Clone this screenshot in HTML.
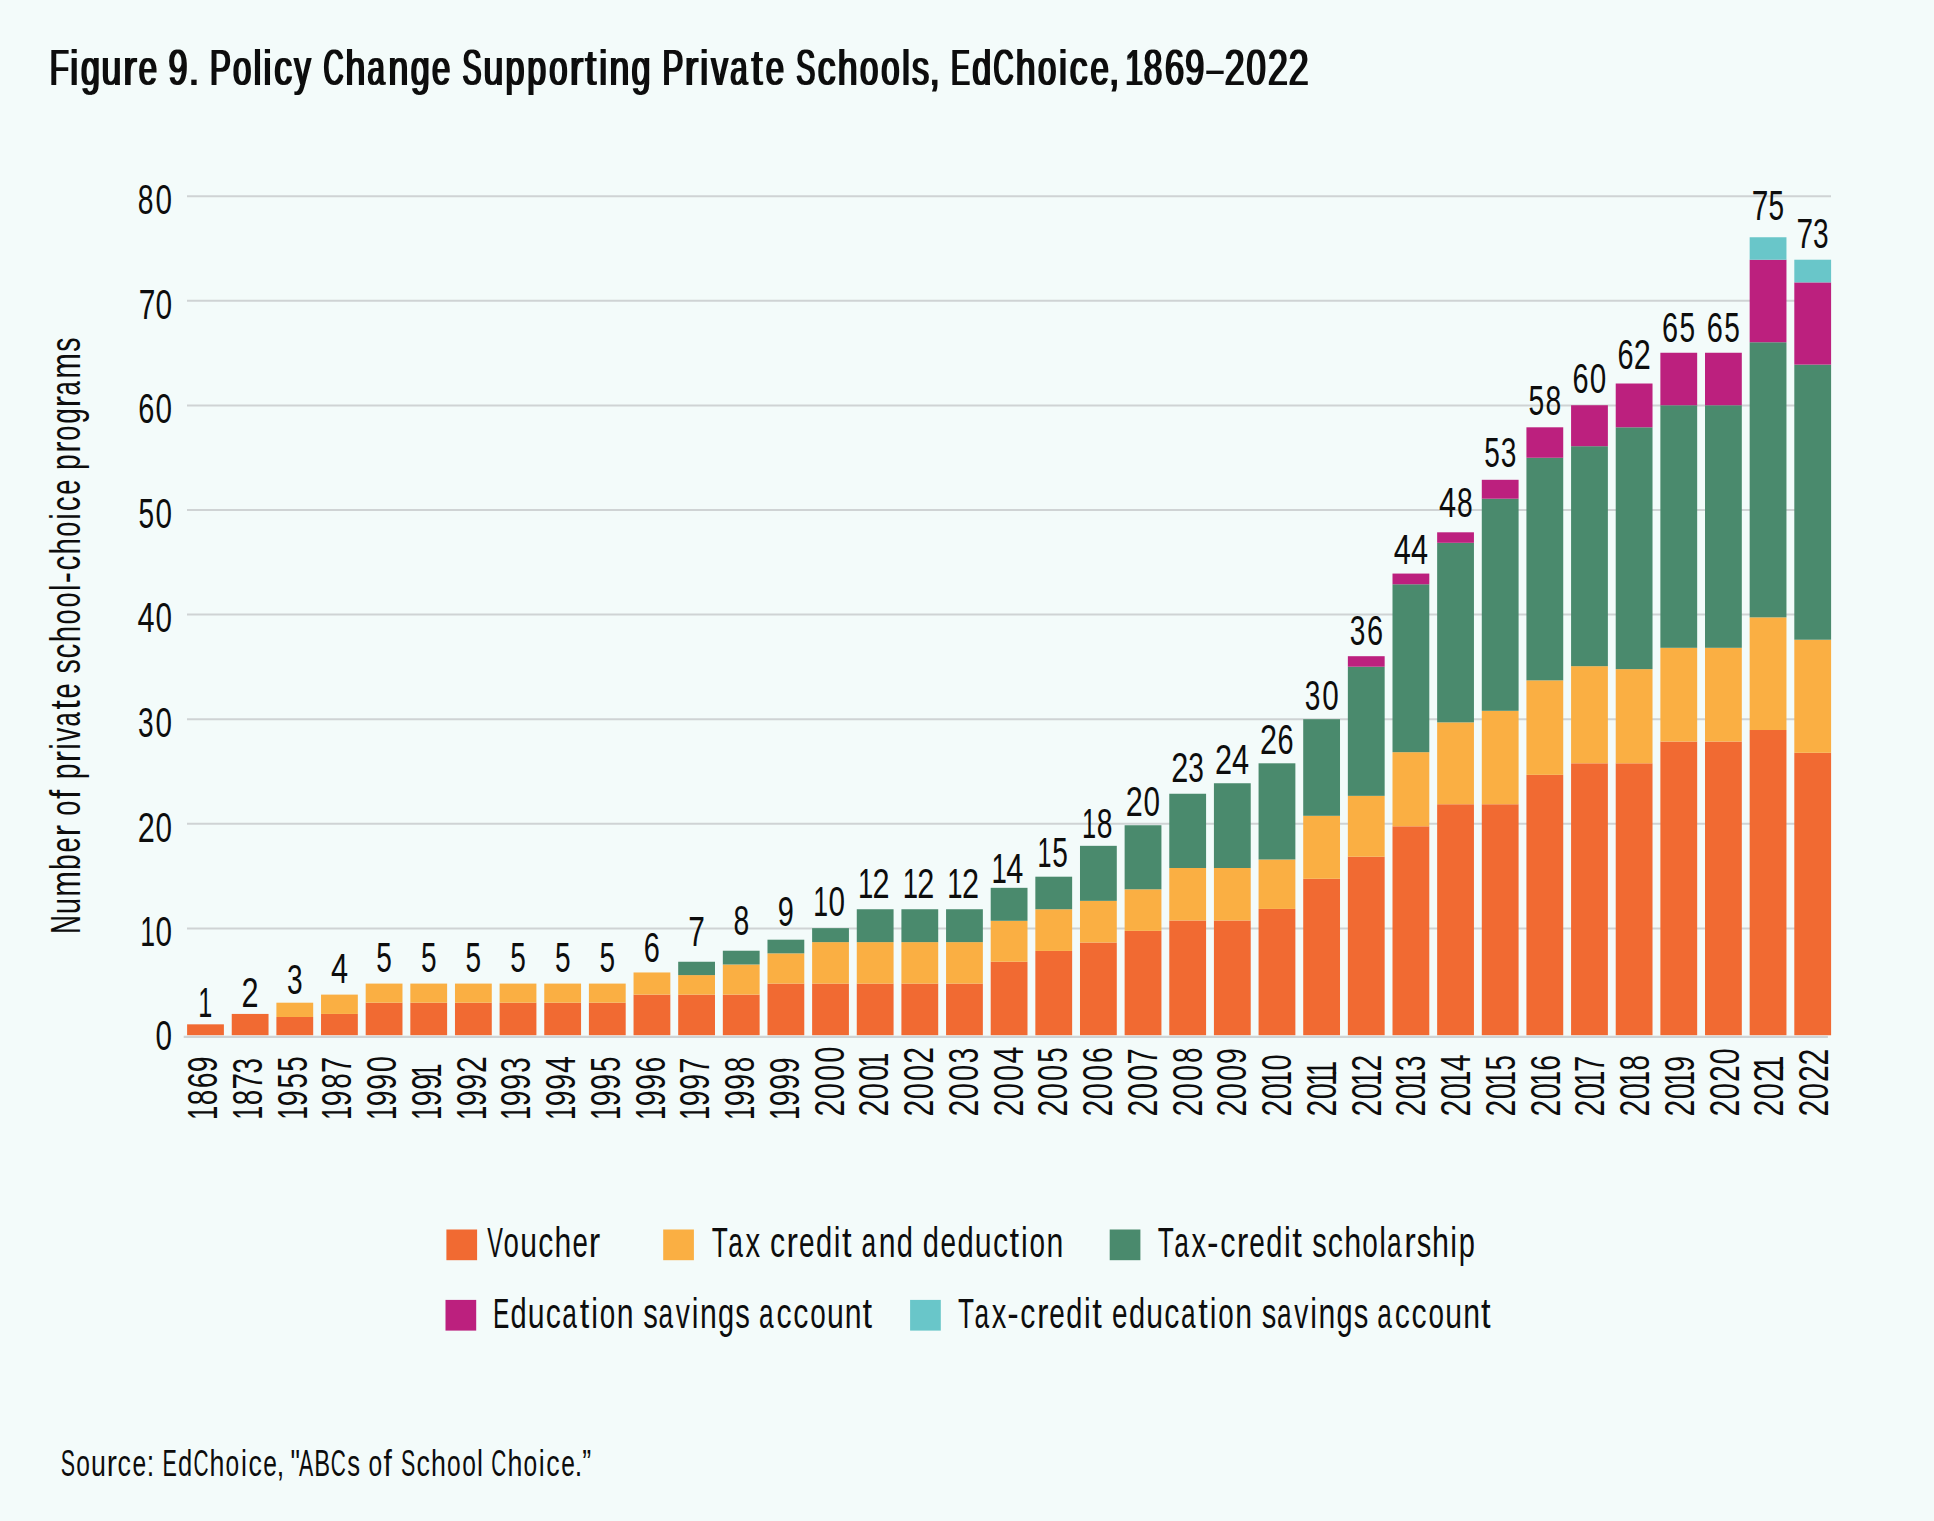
<!DOCTYPE html>
<html lang="en"><head><meta charset="utf-8"><title>Figure 9. Policy Change Supporting Private Schools, EdChoice, 1869–2022</title>
<style>
html,body{margin:0;padding:0;background:#f3fbfa}
body{width:1934px;height:1521px;overflow:hidden}
svg{display:block}
svg text{font-family:"Liberation Sans",sans-serif;white-space:pre}
</style></head><body>
<svg width="1934" height="1521" viewBox="0 0 1934 1521" shape-rendering="auto">
<defs><filter id="fat" x="-1%" y="-10%" width="102%" height="120%"><feMorphology operator="dilate" radius="1 0"/></filter></defs>
<rect width="1934" height="1521" fill="#f3fbfa"/>
<line x1="187" x2="1831" y1="196.2" y2="196.2" stroke="#cfd3d4" stroke-width="2"/>
<line x1="187" x2="1831" y1="300.8" y2="300.8" stroke="#cfd3d4" stroke-width="2"/>
<line x1="187" x2="1831" y1="405.4" y2="405.4" stroke="#cfd3d4" stroke-width="2"/>
<line x1="187" x2="1831" y1="510" y2="510" stroke="#cfd3d4" stroke-width="2"/>
<line x1="187" x2="1831" y1="614.6" y2="614.6" stroke="#cfd3d4" stroke-width="2"/>
<line x1="187" x2="1831" y1="719.2" y2="719.2" stroke="#cfd3d4" stroke-width="2"/>
<line x1="187" x2="1831" y1="823.8" y2="823.8" stroke="#cfd3d4" stroke-width="2"/>
<line x1="187" x2="1831" y1="928.4" y2="928.4" stroke="#cfd3d4" stroke-width="2"/>
<rect x="187.1" y="1024.33" width="36.8" height="10.92" fill="#f16a32"/>
<rect x="231.74" y="1013.93" width="36.8" height="21.32" fill="#f16a32"/>
<rect x="276.39" y="1016.98" width="36.8" height="18.27" fill="#f16a32"/>
<rect x="276.39" y="1002.7" width="36.8" height="14.28" fill="#faaf43"/>
<rect x="321.03" y="1013.93" width="36.8" height="21.32" fill="#f16a32"/>
<rect x="321.03" y="994.62" width="36.8" height="19.32" fill="#faaf43"/>
<rect x="365.68" y="1002.7" width="36.8" height="32.55" fill="#f16a32"/>
<rect x="365.68" y="983.59" width="36.8" height="19.11" fill="#faaf43"/>
<rect x="410.32" y="1002.7" width="36.8" height="32.55" fill="#f16a32"/>
<rect x="410.32" y="983.59" width="36.8" height="19.11" fill="#faaf43"/>
<rect x="454.97" y="1002.7" width="36.8" height="32.55" fill="#f16a32"/>
<rect x="454.97" y="983.59" width="36.8" height="19.11" fill="#faaf43"/>
<rect x="499.61" y="1002.7" width="36.8" height="32.55" fill="#f16a32"/>
<rect x="499.61" y="983.59" width="36.8" height="19.11" fill="#faaf43"/>
<rect x="544.26" y="1002.7" width="36.8" height="32.55" fill="#f16a32"/>
<rect x="544.26" y="983.59" width="36.8" height="19.11" fill="#faaf43"/>
<rect x="588.9" y="1002.7" width="36.8" height="32.55" fill="#f16a32"/>
<rect x="588.9" y="983.59" width="36.8" height="19.11" fill="#faaf43"/>
<rect x="633.54" y="994.62" width="36.8" height="40.63" fill="#f16a32"/>
<rect x="633.54" y="972.46" width="36.8" height="22.15" fill="#faaf43"/>
<rect x="678.19" y="994.62" width="36.8" height="40.63" fill="#f16a32"/>
<rect x="678.19" y="975.09" width="36.8" height="19.53" fill="#faaf43"/>
<rect x="678.19" y="961.75" width="36.8" height="13.34" fill="#4a8a6d"/>
<rect x="722.83" y="994.62" width="36.8" height="40.63" fill="#f16a32"/>
<rect x="722.83" y="964.48" width="36.8" height="30.13" fill="#faaf43"/>
<rect x="722.83" y="950.73" width="36.8" height="13.75" fill="#4a8a6d"/>
<rect x="767.48" y="983.59" width="36.8" height="51.66" fill="#f16a32"/>
<rect x="767.48" y="953.35" width="36.8" height="30.24" fill="#faaf43"/>
<rect x="767.48" y="939.7" width="36.8" height="13.65" fill="#4a8a6d"/>
<rect x="812.12" y="983.59" width="36.8" height="51.66" fill="#f16a32"/>
<rect x="812.12" y="942.12" width="36.8" height="41.48" fill="#faaf43"/>
<rect x="812.12" y="928.15" width="36.8" height="13.97" fill="#4a8a6d"/>
<rect x="856.77" y="983.59" width="36.8" height="51.66" fill="#f16a32"/>
<rect x="856.77" y="942.12" width="36.8" height="41.48" fill="#faaf43"/>
<rect x="856.77" y="909.25" width="36.8" height="32.87" fill="#4a8a6d"/>
<rect x="901.41" y="983.59" width="36.8" height="51.66" fill="#f16a32"/>
<rect x="901.41" y="942.12" width="36.8" height="41.48" fill="#faaf43"/>
<rect x="901.41" y="909.25" width="36.8" height="32.87" fill="#4a8a6d"/>
<rect x="946.06" y="983.59" width="36.8" height="51.66" fill="#f16a32"/>
<rect x="946.06" y="942.12" width="36.8" height="41.48" fill="#faaf43"/>
<rect x="946.06" y="909.25" width="36.8" height="32.87" fill="#4a8a6d"/>
<rect x="990.7" y="961.75" width="36.8" height="73.5" fill="#f16a32"/>
<rect x="990.7" y="920.8" width="36.8" height="40.95" fill="#faaf43"/>
<rect x="990.7" y="887.83" width="36.8" height="32.97" fill="#4a8a6d"/>
<rect x="1035.34" y="950.93" width="36.8" height="84.32" fill="#f16a32"/>
<rect x="1035.34" y="909.25" width="36.8" height="41.68" fill="#faaf43"/>
<rect x="1035.34" y="876.7" width="36.8" height="32.55" fill="#4a8a6d"/>
<rect x="1079.99" y="942.53" width="36.8" height="92.72" fill="#f16a32"/>
<rect x="1079.99" y="900.85" width="36.8" height="41.68" fill="#faaf43"/>
<rect x="1079.99" y="845.83" width="36.8" height="55.02" fill="#4a8a6d"/>
<rect x="1124.63" y="930.88" width="36.8" height="104.37" fill="#f16a32"/>
<rect x="1124.63" y="889.3" width="36.8" height="41.58" fill="#faaf43"/>
<rect x="1124.63" y="825.25" width="36.8" height="64.05" fill="#4a8a6d"/>
<rect x="1169.28" y="920.49" width="36.8" height="114.76" fill="#f16a32"/>
<rect x="1169.28" y="867.99" width="36.8" height="52.5" fill="#faaf43"/>
<rect x="1169.28" y="793.75" width="36.8" height="74.24" fill="#4a8a6d"/>
<rect x="1213.92" y="920.49" width="36.8" height="114.76" fill="#f16a32"/>
<rect x="1213.92" y="867.99" width="36.8" height="52.5" fill="#faaf43"/>
<rect x="1213.92" y="783.25" width="36.8" height="84.74" fill="#4a8a6d"/>
<rect x="1258.57" y="908.93" width="36.8" height="126.32" fill="#f16a32"/>
<rect x="1258.57" y="859.48" width="36.8" height="49.45" fill="#faaf43"/>
<rect x="1258.57" y="763.3" width="36.8" height="96.18" fill="#4a8a6d"/>
<rect x="1303.21" y="878.8" width="36.8" height="156.45" fill="#f16a32"/>
<rect x="1303.21" y="815.8" width="36.8" height="63" fill="#faaf43"/>
<rect x="1303.21" y="719.2" width="36.8" height="96.6" fill="#4a8a6d"/>
<rect x="1347.86" y="856.75" width="36.8" height="178.5" fill="#f16a32"/>
<rect x="1347.86" y="795.85" width="36.8" height="60.9" fill="#faaf43"/>
<rect x="1347.86" y="666.7" width="36.8" height="129.15" fill="#4a8a6d"/>
<rect x="1347.86" y="656.2" width="36.8" height="10.5" fill="#bc207e"/>
<rect x="1392.5" y="826.3" width="36.8" height="208.95" fill="#f16a32"/>
<rect x="1392.5" y="752.17" width="36.8" height="74.13" fill="#faaf43"/>
<rect x="1392.5" y="584.27" width="36.8" height="167.9" fill="#4a8a6d"/>
<rect x="1392.5" y="573.57" width="36.8" height="10.71" fill="#bc207e"/>
<rect x="1437.14" y="804.25" width="36.8" height="231" fill="#f16a32"/>
<rect x="1437.14" y="722.35" width="36.8" height="81.9" fill="#faaf43"/>
<rect x="1437.14" y="542.8" width="36.8" height="179.55" fill="#4a8a6d"/>
<rect x="1437.14" y="532.3" width="36.8" height="10.5" fill="#bc207e"/>
<rect x="1481.79" y="804.25" width="36.8" height="231" fill="#f16a32"/>
<rect x="1481.79" y="710.8" width="36.8" height="93.45" fill="#faaf43"/>
<rect x="1481.79" y="498.7" width="36.8" height="212.1" fill="#4a8a6d"/>
<rect x="1481.79" y="479.8" width="36.8" height="18.9" fill="#bc207e"/>
<rect x="1526.43" y="774.85" width="36.8" height="260.4" fill="#f16a32"/>
<rect x="1526.43" y="680.35" width="36.8" height="94.5" fill="#faaf43"/>
<rect x="1526.43" y="457.75" width="36.8" height="222.6" fill="#4a8a6d"/>
<rect x="1526.43" y="427.3" width="36.8" height="30.45" fill="#bc207e"/>
<rect x="1571.08" y="763.3" width="36.8" height="271.95" fill="#f16a32"/>
<rect x="1571.08" y="666.17" width="36.8" height="97.12" fill="#faaf43"/>
<rect x="1571.08" y="446.2" width="36.8" height="219.98" fill="#4a8a6d"/>
<rect x="1571.08" y="405.25" width="36.8" height="40.95" fill="#bc207e"/>
<rect x="1615.72" y="763.3" width="36.8" height="271.95" fill="#f16a32"/>
<rect x="1615.72" y="669.12" width="36.8" height="94.18" fill="#faaf43"/>
<rect x="1615.72" y="427.3" width="36.8" height="241.81" fill="#4a8a6d"/>
<rect x="1615.72" y="383.51" width="36.8" height="43.79" fill="#bc207e"/>
<rect x="1660.37" y="741.57" width="36.8" height="293.68" fill="#f16a32"/>
<rect x="1660.37" y="647.8" width="36.8" height="93.77" fill="#faaf43"/>
<rect x="1660.37" y="405.25" width="36.8" height="242.55" fill="#4a8a6d"/>
<rect x="1660.37" y="352.75" width="36.8" height="52.5" fill="#bc207e"/>
<rect x="1705.01" y="741.57" width="36.8" height="293.68" fill="#f16a32"/>
<rect x="1705.01" y="647.8" width="36.8" height="93.77" fill="#faaf43"/>
<rect x="1705.01" y="405.25" width="36.8" height="242.55" fill="#4a8a6d"/>
<rect x="1705.01" y="352.75" width="36.8" height="52.5" fill="#bc207e"/>
<rect x="1749.66" y="730.01" width="36.8" height="305.24" fill="#f16a32"/>
<rect x="1749.66" y="617.35" width="36.8" height="112.66" fill="#faaf43"/>
<rect x="1749.66" y="342.25" width="36.8" height="275.1" fill="#4a8a6d"/>
<rect x="1749.66" y="259.72" width="36.8" height="82.53" fill="#bc207e"/>
<rect x="1749.66" y="237.25" width="36.8" height="22.47" fill="#69c6c9"/>
<rect x="1794.3" y="752.8" width="36.8" height="282.45" fill="#f16a32"/>
<rect x="1794.3" y="639.71" width="36.8" height="113.09" fill="#faaf43"/>
<rect x="1794.3" y="364.62" width="36.8" height="275.1" fill="#4a8a6d"/>
<rect x="1794.3" y="282.4" width="36.8" height="82.22" fill="#bc207e"/>
<rect x="1794.3" y="259.72" width="36.8" height="22.68" fill="#69c6c9"/>
<line x1="183.7" x2="1827.9" y1="1036.9" y2="1036.9" stroke="#cfd3d4" stroke-width="2.1"/>
<text transform="translate(170.8,213.9) scale(0.6991,1)" font-size="42.4" fill="#0d0d0d" x="-47.18 -21.92"><tspan textLength="22.47" lengthAdjust="spacingAndGlyphs">8</tspan>0</text>
<text transform="translate(170.8,318.5) scale(0.7049,1)" font-size="42.4" fill="#0d0d0d" x="-45.63 -21.74">70</text>
<text transform="translate(170.8,423.1) scale(0.6991,1)" font-size="42.4" fill="#0d0d0d" x="-46.74 -21.92"><tspan textLength="22.99" lengthAdjust="spacingAndGlyphs">6</tspan>0</text>
<text transform="translate(170.8,527.7) scale(0.6991,1)" font-size="42.4" fill="#0d0d0d" x="-46.19 -21.92"><tspan textLength="22.3" lengthAdjust="spacingAndGlyphs">5</tspan>0</text>
<text transform="translate(170.8,632.3) scale(0.7237,1)" font-size="42.4" fill="#0d0d0d" x="-46.18 -21.18">4<tspan textLength="22.78" lengthAdjust="spacingAndGlyphs">0</tspan></text>
<text transform="translate(170.8,736.9) scale(0.6991,1)" font-size="42.4" fill="#0d0d0d" x="-47.01 -21.92"><tspan textLength="22.3" lengthAdjust="spacingAndGlyphs">3</tspan>0</text>
<text transform="translate(170.8,841.5) scale(0.7228,1)" font-size="42.4" fill="#0d0d0d" x="-45.66 -21.2">2<tspan textLength="22.81" lengthAdjust="spacingAndGlyphs">0</tspan></text>
<text transform="translate(170.8,946.1) scale(0.6991,1)" font-size="42.4" fill="#0d0d0d" x="-43.59 -21.92"><tspan textLength="21.22" lengthAdjust="spacingAndGlyphs">1</tspan>0</text>
<text transform="translate(170.8,1049.8) scale(0.6991,1)" font-size="42.4" fill="#0d0d0d" x="-21.92">0</text>
<text transform="translate(205.5,1016.9) scale(0.6600,1)" font-size="42.4" fill="#0d0d0d" x="-11.13"><tspan textLength="21.22" lengthAdjust="spacingAndGlyphs">1</tspan></text>
<text transform="translate(250.14,1006.8) scale(0.7228,1)" font-size="42.4" fill="#0d0d0d" x="-11.79">2</text>
<text transform="translate(294.79,993.9) scale(0.6613,1)" font-size="42.4" fill="#0d0d0d" x="-11.66">3</text>
<text transform="translate(339.43,982.7) scale(0.7237,1)" font-size="42.4" fill="#0d0d0d" x="-11.65">4</text>
<text transform="translate(384.08,971.9) scale(0.6613,1)" font-size="42.4" fill="#0d0d0d" x="-11.75">5</text>
<text transform="translate(428.72,971.9) scale(0.6613,1)" font-size="42.4" fill="#0d0d0d" x="-11.75">5</text>
<text transform="translate(473.37,971.9) scale(0.6613,1)" font-size="42.4" fill="#0d0d0d" x="-11.75">5</text>
<text transform="translate(518.01,971.9) scale(0.6613,1)" font-size="42.4" fill="#0d0d0d" x="-11.75">5</text>
<text transform="translate(562.66,971.9) scale(0.6613,1)" font-size="42.4" fill="#0d0d0d" x="-11.75">5</text>
<text transform="translate(607.3,971.9) scale(0.6613,1)" font-size="42.4" fill="#0d0d0d" x="-11.75">5</text>
<text transform="translate(651.94,961.9) scale(0.6816,1)" font-size="42.4" fill="#0d0d0d" x="-11.93">6</text>
<text transform="translate(696.59,946.1) scale(0.7049,1)" font-size="42.4" fill="#0d0d0d" x="-11.81">7</text>
<text transform="translate(741.23,934.9) scale(0.6661,1)" font-size="42.4" fill="#0d0d0d" x="-11.79">8</text>
<text transform="translate(785.88,925.6) scale(0.6809,1)" font-size="42.4" fill="#0d0d0d" x="-11.78">9</text>
<text transform="translate(830.52,916.3) scale(0.6991,1)" font-size="42.4" fill="#0d0d0d" x="-24.57 -2.91"><tspan textLength="21.22" lengthAdjust="spacingAndGlyphs">1</tspan>0</text>
<text transform="translate(875.17,897.7) scale(0.7228,1)" font-size="42.4" fill="#0d0d0d" x="-23.64 -3.54"><tspan textLength="21.22" lengthAdjust="spacingAndGlyphs">1</tspan>2</text>
<text transform="translate(919.81,897.7) scale(0.7228,1)" font-size="42.4" fill="#0d0d0d" x="-23.64 -3.54"><tspan textLength="21.22" lengthAdjust="spacingAndGlyphs">1</tspan>2</text>
<text transform="translate(964.46,897.7) scale(0.7228,1)" font-size="42.4" fill="#0d0d0d" x="-23.64 -3.54"><tspan textLength="21.22" lengthAdjust="spacingAndGlyphs">1</tspan>2</text>
<text transform="translate(1009.1,882.5) scale(0.7237,1)" font-size="42.4" fill="#0d0d0d" x="-24.15 -3.94"><tspan textLength="21.22" lengthAdjust="spacingAndGlyphs">1</tspan>4</text>
<text transform="translate(1053.74,867.4) scale(0.6613,1)" font-size="42.4" fill="#0d0d0d" x="-24.71 -2.33"><tspan textLength="21.22" lengthAdjust="spacingAndGlyphs">1</tspan>5</text>
<text transform="translate(1098.39,838.2) scale(0.6661,1)" font-size="42.4" fill="#0d0d0d" x="-24.55 -2.47"><tspan textLength="21.22" lengthAdjust="spacingAndGlyphs">1</tspan>8</text>
<text transform="translate(1143.03,815.9) scale(0.7228,1)" font-size="42.4" fill="#0d0d0d" x="-23.9 0.56">2<tspan textLength="22.81" lengthAdjust="spacingAndGlyphs">0</tspan></text>
<text transform="translate(1187.68,782.4) scale(0.7228,1)" font-size="42.4" fill="#0d0d0d" x="-22.86 0.86">2<tspan textLength="21.57" lengthAdjust="spacingAndGlyphs">3</tspan></text>
<text transform="translate(1232.32,773.5) scale(0.7237,1)" font-size="42.4" fill="#0d0d0d" x="-23.9 -0.57">24</text>
<text transform="translate(1276.97,753.9) scale(0.7228,1)" font-size="42.4" fill="#0d0d0d" x="-23.35 0.74">2<tspan textLength="22.24" lengthAdjust="spacingAndGlyphs">6</tspan></text>
<text transform="translate(1321.61,710.2) scale(0.6991,1)" font-size="42.4" fill="#0d0d0d" x="-24.27 0.82"><tspan textLength="22.3" lengthAdjust="spacingAndGlyphs">3</tspan>0</text>
<text transform="translate(1366.26,645.2) scale(0.6816,1)" font-size="42.4" fill="#0d0d0d" x="-24.31 1.03"><tspan textLength="22.88" lengthAdjust="spacingAndGlyphs">3</tspan>6</text>
<text transform="translate(1410.9,564.3) scale(0.7237,1)" font-size="42.4" fill="#0d0d0d" x="-23.6 0.29">44</text>
<text transform="translate(1455.54,516.6) scale(0.7237,1)" font-size="42.4" fill="#0d0d0d" x="-22.94 1.96">4<tspan textLength="21.7" lengthAdjust="spacingAndGlyphs">8</tspan></text>
<text transform="translate(1500.19,466.7) scale(0.6613,1)" font-size="42.4" fill="#0d0d0d" x="-24.13 0.72">53</text>
<text transform="translate(1544.83,415.4) scale(0.6661,1)" font-size="42.4" fill="#0d0d0d" x="-24.39 0.97">58</text>
<text transform="translate(1589.48,392.7) scale(0.6991,1)" font-size="42.4" fill="#0d0d0d" x="-24.42 0.4"><tspan textLength="22.99" lengthAdjust="spacingAndGlyphs">6</tspan>0</text>
<text transform="translate(1634.12,369) scale(0.7228,1)" font-size="42.4" fill="#0d0d0d" x="-23.1 -0.37"><tspan textLength="22.24" lengthAdjust="spacingAndGlyphs">6</tspan>2</text>
<text transform="translate(1678.77,341.8) scale(0.6816,1)" font-size="42.4" fill="#0d0d0d" x="-24.44 1.13">6<tspan textLength="22.88" lengthAdjust="spacingAndGlyphs">5</tspan></text>
<text transform="translate(1723.41,341.8) scale(0.6816,1)" font-size="42.4" fill="#0d0d0d" x="-24.44 1.13">6<tspan textLength="22.88" lengthAdjust="spacingAndGlyphs">5</tspan></text>
<text transform="translate(1768.06,219.6) scale(0.7049,1)" font-size="42.4" fill="#0d0d0d" x="-23.31 0.68">7<tspan textLength="22.12" lengthAdjust="spacingAndGlyphs">5</tspan></text>
<text transform="translate(1812.7,248.4) scale(0.7049,1)" font-size="42.4" fill="#0d0d0d" x="-22.84 0.29">7<tspan textLength="22.12" lengthAdjust="spacingAndGlyphs">3</tspan></text>
<text transform="translate(217,1116.7) rotate(-90) scale(0.6809,1)" font-size="41.71" fill="#0d0d0d" x="-4.72 16.77 41.89 65.36"><tspan textLength="20.88" lengthAdjust="spacingAndGlyphs">1</tspan><tspan textLength="22.69" lengthAdjust="spacingAndGlyphs">8</tspan>69</text>
<text transform="translate(261.75,1116.7) rotate(-90) scale(0.6661,1)" font-size="41.71" fill="#0d0d0d" x="-4.58 17.15 40.88 64.96"><tspan textLength="20.88" lengthAdjust="spacingAndGlyphs">1</tspan>8<tspan textLength="24.55" lengthAdjust="spacingAndGlyphs">7</tspan>3</text>
<text transform="translate(306.5,1116.7) rotate(-90) scale(0.6613,1)" font-size="41.71" fill="#0d0d0d" x="-4.54 15.72 42.47 67.83"><tspan textLength="20.88" lengthAdjust="spacingAndGlyphs">1</tspan><tspan textLength="23.89" lengthAdjust="spacingAndGlyphs">9</tspan>55</text>
<text transform="translate(351.25,1116.7) rotate(-90) scale(0.6809,1)" font-size="41.71" fill="#0d0d0d" x="-4.72 15.27 41.04 64.26"><tspan textLength="20.88" lengthAdjust="spacingAndGlyphs">1</tspan>9<tspan textLength="22.69" lengthAdjust="spacingAndGlyphs">8</tspan><tspan textLength="24.01" lengthAdjust="spacingAndGlyphs">7</tspan></text>
<text transform="translate(396,1116.7) rotate(-90) scale(0.6809,1)" font-size="41.71" fill="#0d0d0d" x="-4.72 15.27 39.53 65.4"><tspan textLength="20.88" lengthAdjust="spacingAndGlyphs">1</tspan>99<tspan textLength="23.82" lengthAdjust="spacingAndGlyphs">0</tspan></text>
<text transform="translate(440.75,1116.7) rotate(-90) scale(0.6809,1)" font-size="41.71" fill="#0d0d0d" x="-4.72 15.27 39.53 57.12"><tspan textLength="20.88" lengthAdjust="spacingAndGlyphs">1</tspan>99<tspan textLength="20.88" lengthAdjust="spacingAndGlyphs">1</tspan></text>
<text transform="translate(485.5,1116.7) rotate(-90) scale(0.6809,1)" font-size="41.71" fill="#0d0d0d" x="-4.72 15.27 39.53 64.07"><tspan textLength="20.88" lengthAdjust="spacingAndGlyphs">1</tspan>99<tspan textLength="24.62" lengthAdjust="spacingAndGlyphs">2</tspan></text>
<text transform="translate(530.25,1116.7) rotate(-90) scale(0.6809,1)" font-size="41.71" fill="#0d0d0d" x="-4.72 15.27 39.53 64.63"><tspan textLength="20.88" lengthAdjust="spacingAndGlyphs">1</tspan>99<tspan textLength="22.53" lengthAdjust="spacingAndGlyphs">3</tspan></text>
<text transform="translate(575,1116.7) rotate(-90) scale(0.6809,1)" font-size="41.71" fill="#0d0d0d" x="-4.72 15.27 39.53 64.25"><tspan textLength="20.88" lengthAdjust="spacingAndGlyphs">1</tspan>99<tspan textLength="24.65" lengthAdjust="spacingAndGlyphs">4</tspan></text>
<text transform="translate(619.75,1116.7) rotate(-90) scale(0.6809,1)" font-size="41.71" fill="#0d0d0d" x="-4.72 15.27 39.53 65.51"><tspan textLength="20.88" lengthAdjust="spacingAndGlyphs">1</tspan>99<tspan textLength="22.53" lengthAdjust="spacingAndGlyphs">5</tspan></text>
<text transform="translate(664.5,1116.7) rotate(-90) scale(0.6809,1)" font-size="41.71" fill="#0d0d0d" x="-4.72 15.27 39.53 65.02"><tspan textLength="20.88" lengthAdjust="spacingAndGlyphs">1</tspan>996</text>
<text transform="translate(709.25,1116.7) rotate(-90) scale(0.6809,1)" font-size="41.71" fill="#0d0d0d" x="-4.72 15.27 39.53 63.12"><tspan textLength="20.88" lengthAdjust="spacingAndGlyphs">1</tspan>99<tspan textLength="24.01" lengthAdjust="spacingAndGlyphs">7</tspan></text>
<text transform="translate(754,1116.7) rotate(-90) scale(0.6809,1)" font-size="41.71" fill="#0d0d0d" x="-4.72 15.27 39.53 65.3"><tspan textLength="20.88" lengthAdjust="spacingAndGlyphs">1</tspan>99<tspan textLength="22.69" lengthAdjust="spacingAndGlyphs">8</tspan></text>
<text transform="translate(798.75,1116.7) rotate(-90) scale(0.6809,1)" font-size="41.71" fill="#0d0d0d" x="-4.72 15.27 39.53 63.8"><tspan textLength="20.88" lengthAdjust="spacingAndGlyphs">1</tspan>999</text>
<text transform="translate(843.5,1116.7) rotate(-90) scale(0.6991,1)" font-size="41.71" fill="#0d0d0d" x="0.12 25 51.04 77.08"><tspan textLength="23.98" lengthAdjust="spacingAndGlyphs">2</tspan>000</text>
<text transform="translate(888.25,1116.7) rotate(-90) scale(0.6991,1)" font-size="41.71" fill="#0d0d0d" x="0.12 25 51.04 70.77"><tspan textLength="23.98" lengthAdjust="spacingAndGlyphs">2</tspan>00<tspan textLength="20.88" lengthAdjust="spacingAndGlyphs">1</tspan></text>
<text transform="translate(933,1116.7) rotate(-90) scale(0.7228,1)" font-size="41.71" fill="#0d0d0d" x="0.11 24.18 49.36 73.29">2<tspan textLength="22.44" lengthAdjust="spacingAndGlyphs">0</tspan><tspan textLength="22.44" lengthAdjust="spacingAndGlyphs">0</tspan>2</text>
<text transform="translate(977.75,1116.7) rotate(-90) scale(0.6991,1)" font-size="41.71" fill="#0d0d0d" x="0.12 25 51.04 76.32"><tspan textLength="23.98" lengthAdjust="spacingAndGlyphs">2</tspan>00<tspan textLength="21.95" lengthAdjust="spacingAndGlyphs">3</tspan></text>
<text transform="translate(1022.5,1116.7) rotate(-90) scale(0.7228,1)" font-size="41.71" fill="#0d0d0d" x="0.11 24.18 49.36 73.47">2<tspan textLength="22.44" lengthAdjust="spacingAndGlyphs">0</tspan><tspan textLength="22.44" lengthAdjust="spacingAndGlyphs">0</tspan>4</text>
<text transform="translate(1067.25,1116.7) rotate(-90) scale(0.6991,1)" font-size="41.71" fill="#0d0d0d" x="0.12 25 51.04 77.18"><tspan textLength="23.98" lengthAdjust="spacingAndGlyphs">2</tspan>00<tspan textLength="21.95" lengthAdjust="spacingAndGlyphs">5</tspan></text>
<text transform="translate(1112,1116.7) rotate(-90) scale(0.6991,1)" font-size="41.71" fill="#0d0d0d" x="0.12 25 51.04 76.7"><tspan textLength="23.98" lengthAdjust="spacingAndGlyphs">2</tspan>00<tspan textLength="22.62" lengthAdjust="spacingAndGlyphs">6</tspan></text>
<text transform="translate(1156.75,1116.7) rotate(-90) scale(0.7049,1)" font-size="41.71" fill="#0d0d0d" x="0.12 24.79 50.62 74.23"><tspan textLength="23.79" lengthAdjust="spacingAndGlyphs">2</tspan>007</text>
<text transform="translate(1201.5,1116.7) rotate(-90) scale(0.6991,1)" font-size="41.71" fill="#0d0d0d" x="0.12 25 51.04 76.98"><tspan textLength="23.98" lengthAdjust="spacingAndGlyphs">2</tspan>00<tspan textLength="22.1" lengthAdjust="spacingAndGlyphs">8</tspan></text>
<text transform="translate(1246.25,1116.7) rotate(-90) scale(0.6991,1)" font-size="41.71" fill="#0d0d0d" x="0.12 25 51.04 75.51"><tspan textLength="23.98" lengthAdjust="spacingAndGlyphs">2</tspan>00<tspan textLength="22.6" lengthAdjust="spacingAndGlyphs">9</tspan></text>
<text transform="translate(1291,1116.7) rotate(-90) scale(0.6991,1)" font-size="41.71" fill="#0d0d0d" x="0.12 25 44.73 66.05"><tspan textLength="23.98" lengthAdjust="spacingAndGlyphs">2</tspan>0<tspan textLength="20.88" lengthAdjust="spacingAndGlyphs">1</tspan>0</text>
<text transform="translate(1335.75,1116.7) rotate(-90) scale(0.7228,1)" font-size="41.71" fill="#0d0d0d" x="0.11 24.18 42.91 56.24">2<tspan textLength="22.44" lengthAdjust="spacingAndGlyphs">0</tspan><tspan textLength="20.88" lengthAdjust="spacingAndGlyphs">1</tspan><tspan textLength="20.88" lengthAdjust="spacingAndGlyphs">1</tspan></text>
<text transform="translate(1380.5,1116.7) rotate(-90) scale(0.7228,1)" font-size="41.71" fill="#0d0d0d" x="0.11 24.18 42.91 62.68">2<tspan textLength="22.44" lengthAdjust="spacingAndGlyphs">0</tspan><tspan textLength="20.88" lengthAdjust="spacingAndGlyphs">1</tspan>2</text>
<text transform="translate(1425.25,1116.7) rotate(-90) scale(0.6991,1)" font-size="41.71" fill="#0d0d0d" x="0.12 25 44.73 65.3"><tspan textLength="23.98" lengthAdjust="spacingAndGlyphs">2</tspan>0<tspan textLength="20.88" lengthAdjust="spacingAndGlyphs">1</tspan><tspan textLength="21.95" lengthAdjust="spacingAndGlyphs">3</tspan></text>
<text transform="translate(1470,1116.7) rotate(-90) scale(0.7228,1)" font-size="41.71" fill="#0d0d0d" x="0.11 24.18 42.91 62.8">2<tspan textLength="22.44" lengthAdjust="spacingAndGlyphs">0</tspan><tspan textLength="20.88" lengthAdjust="spacingAndGlyphs">1</tspan>4</text>
<text transform="translate(1514.75,1116.7) rotate(-90) scale(0.6991,1)" font-size="41.71" fill="#0d0d0d" x="0.12 25 44.73 66.16"><tspan textLength="23.98" lengthAdjust="spacingAndGlyphs">2</tspan>0<tspan textLength="20.88" lengthAdjust="spacingAndGlyphs">1</tspan><tspan textLength="21.95" lengthAdjust="spacingAndGlyphs">5</tspan></text>
<text transform="translate(1559.5,1116.7) rotate(-90) scale(0.6991,1)" font-size="41.71" fill="#0d0d0d" x="0.12 25 44.73 65.67"><tspan textLength="23.98" lengthAdjust="spacingAndGlyphs">2</tspan>0<tspan textLength="20.88" lengthAdjust="spacingAndGlyphs">1</tspan><tspan textLength="22.62" lengthAdjust="spacingAndGlyphs">6</tspan></text>
<text transform="translate(1604.25,1116.7) rotate(-90) scale(0.7049,1)" font-size="41.71" fill="#0d0d0d" x="0.12 24.79 44.28 63.3"><tspan textLength="23.79" lengthAdjust="spacingAndGlyphs">2</tspan>0<tspan textLength="20.88" lengthAdjust="spacingAndGlyphs">1</tspan>7</text>
<text transform="translate(1649,1116.7) rotate(-90) scale(0.6991,1)" font-size="41.71" fill="#0d0d0d" x="0.12 25 44.73 65.95"><tspan textLength="23.98" lengthAdjust="spacingAndGlyphs">2</tspan>0<tspan textLength="20.88" lengthAdjust="spacingAndGlyphs">1</tspan><tspan textLength="22.1" lengthAdjust="spacingAndGlyphs">8</tspan></text>
<text transform="translate(1693.75,1116.7) rotate(-90) scale(0.6991,1)" font-size="41.71" fill="#0d0d0d" x="0.12 25 44.73 64.48"><tspan textLength="23.98" lengthAdjust="spacingAndGlyphs">2</tspan>0<tspan textLength="20.88" lengthAdjust="spacingAndGlyphs">1</tspan><tspan textLength="22.6" lengthAdjust="spacingAndGlyphs">9</tspan></text>
<text transform="translate(1738.5,1116.7) rotate(-90) scale(0.7228,1)" font-size="41.71" fill="#0d0d0d" x="0.11 24.18 48.1 72.17">2<tspan textLength="22.44" lengthAdjust="spacingAndGlyphs">0</tspan>2<tspan textLength="22.44" lengthAdjust="spacingAndGlyphs">0</tspan></text>
<text transform="translate(1783.25,1116.7) rotate(-90) scale(0.7228,1)" font-size="41.71" fill="#0d0d0d" x="0.11 24.18 48.1 63.73">2<tspan textLength="22.44" lengthAdjust="spacingAndGlyphs">0</tspan>2<tspan textLength="20.88" lengthAdjust="spacingAndGlyphs">1</tspan></text>
<text transform="translate(1828,1116.7) rotate(-90) scale(0.7228,1)" font-size="41.71" fill="#0d0d0d" x="0.11 24.18 48.1 70.91">2<tspan textLength="22.44" lengthAdjust="spacingAndGlyphs">0</tspan>22</text>
<text transform="translate(79.9,931.7) rotate(-90) scale(0.7087,1)" font-size="41.67" fill="#0d0d0d" x="-2.96 24.8 49.34 87.03 111.73 134.74 150.76 163.58 187.19 202.19 214.97 239.22 256.61 268.51 289.53 313.43 329.22 351.41 364.21 385.63 408.31 433.43 457.36 480.6 491.57 509.6 532.28 557.4 581.41 593.15 616.48 638.68 651.46 675.71 692.78 716.65 740.05 756.75 780.41 818.4"><tspan textLength="26.09" lengthAdjust="spacingAndGlyphs">N</tspan>u<tspan textLength="36.4" lengthAdjust="spacingAndGlyphs">m</tspan><tspan textLength="22.25" lengthAdjust="spacingAndGlyphs">b</tspan><tspan textLength="21.39" lengthAdjust="spacingAndGlyphs">e</tspan><tspan textLength="15.82" lengthAdjust="spacingAndGlyphs">r</tspan> <tspan textLength="21.39" lengthAdjust="spacingAndGlyphs">o</tspan><tspan textLength="13.11" lengthAdjust="spacingAndGlyphs">f</tspan> <tspan textLength="22.25" lengthAdjust="spacingAndGlyphs">p</tspan><tspan textLength="15.82" lengthAdjust="spacingAndGlyphs">r</tspan>i<tspan textLength="19.41" lengthAdjust="spacingAndGlyphs">v</tspan><tspan textLength="20.16" lengthAdjust="spacingAndGlyphs">a</tspan><tspan textLength="13.2" lengthAdjust="spacingAndGlyphs">t</tspan><tspan textLength="21.39" lengthAdjust="spacingAndGlyphs">e</tspan> <tspan textLength="20.1" lengthAdjust="spacingAndGlyphs">s</tspan>ch<tspan textLength="21.39" lengthAdjust="spacingAndGlyphs">o</tspan><tspan textLength="21.39" lengthAdjust="spacingAndGlyphs">o</tspan>l<tspan textLength="15.82" lengthAdjust="spacingAndGlyphs">-</tspan>ch<tspan textLength="21.39" lengthAdjust="spacingAndGlyphs">o</tspan>ic<tspan textLength="21.39" lengthAdjust="spacingAndGlyphs">e</tspan> <tspan textLength="22.25" lengthAdjust="spacingAndGlyphs">p</tspan><tspan textLength="15.82" lengthAdjust="spacingAndGlyphs">r</tspan><tspan textLength="21.39" lengthAdjust="spacingAndGlyphs">o</tspan><tspan textLength="22.25" lengthAdjust="spacingAndGlyphs">g</tspan><tspan textLength="15.82" lengthAdjust="spacingAndGlyphs">r</tspan><tspan textLength="20.16" lengthAdjust="spacingAndGlyphs">a</tspan><tspan textLength="36.4" lengthAdjust="spacingAndGlyphs">m</tspan><tspan textLength="20.1" lengthAdjust="spacingAndGlyphs">s</tspan></text>
<text transform="translate(51.5,85.4) scale(0.7136,1)" font-size="50" fill="#0d0d0d" x="-2.62 26.21 41.24 70 100.44 122.19 149.44 163.96 192.55 206.64 222.25 254.27 283.09 297.14 312.04 340.21 365.41 381.05 412.16 442.84 472.41 503.39 533.09 560.35 576 605.26 636.34 666.83 697.49 726.4 748.08 767.56 781.88 812.87 840.6 856.21 887.42 909.29 924.63 951.18 981.08 1000.78 1028.04 1043.69 1073.71 1101.91 1133.14 1162.86 1191.69 1206.01 1230.58 1244.35 1260.38 1290.16 1320.07 1351.18 1382.41 1411.89 1426.79 1455.92 1482.23 1496 1504.72 1530.64 1560.37 1588.68 1619.44 1644.16 1674.68 1704.59 1733.68" filter="url(#fat)"><tspan textLength="26.81" lengthAdjust="spacingAndGlyphs">F</tspan>i<tspan textLength="26.61" lengthAdjust="spacingAndGlyphs">g</tspan>u<tspan textLength="18.98" lengthAdjust="spacingAndGlyphs">r</tspan><tspan textLength="25.59" lengthAdjust="spacingAndGlyphs">e</tspan> <tspan textLength="26.59" lengthAdjust="spacingAndGlyphs">9</tspan>. <tspan textLength="29.25" lengthAdjust="spacingAndGlyphs">P</tspan><tspan textLength="25.68" lengthAdjust="spacingAndGlyphs">o</tspan>lic<tspan textLength="23.2" lengthAdjust="spacingAndGlyphs">y</tspan> <tspan textLength="28.16" lengthAdjust="spacingAndGlyphs">C</tspan>h<tspan textLength="24.29" lengthAdjust="spacingAndGlyphs">a</tspan>n<tspan textLength="26.61" lengthAdjust="spacingAndGlyphs">g</tspan><tspan textLength="25.59" lengthAdjust="spacingAndGlyphs">e</tspan> <tspan textLength="26.56" lengthAdjust="spacingAndGlyphs">S</tspan>u<tspan textLength="26.61" lengthAdjust="spacingAndGlyphs">p</tspan><tspan textLength="26.61" lengthAdjust="spacingAndGlyphs">p</tspan><tspan textLength="25.68" lengthAdjust="spacingAndGlyphs">o</tspan><tspan textLength="18.98" lengthAdjust="spacingAndGlyphs">r</tspan><tspan textLength="15.41" lengthAdjust="spacingAndGlyphs">t</tspan>in<tspan textLength="26.61" lengthAdjust="spacingAndGlyphs">g</tspan> <tspan textLength="29.25" lengthAdjust="spacingAndGlyphs">P</tspan><tspan textLength="18.98" lengthAdjust="spacingAndGlyphs">r</tspan>i<tspan textLength="23.45" lengthAdjust="spacingAndGlyphs">v</tspan><tspan textLength="24.29" lengthAdjust="spacingAndGlyphs">a</tspan><tspan textLength="15.41" lengthAdjust="spacingAndGlyphs">t</tspan><tspan textLength="25.59" lengthAdjust="spacingAndGlyphs">e</tspan> <tspan textLength="26.56" lengthAdjust="spacingAndGlyphs">S</tspan>ch<tspan textLength="25.68" lengthAdjust="spacingAndGlyphs">o</tspan><tspan textLength="25.68" lengthAdjust="spacingAndGlyphs">o</tspan>l<tspan textLength="24.03" lengthAdjust="spacingAndGlyphs">s</tspan>, <tspan textLength="26.48" lengthAdjust="spacingAndGlyphs">E</tspan><tspan textLength="26.61" lengthAdjust="spacingAndGlyphs">d</tspan><tspan textLength="28.16" lengthAdjust="spacingAndGlyphs">C</tspan>h<tspan textLength="25.68" lengthAdjust="spacingAndGlyphs">o</tspan>ic<tspan textLength="25.59" lengthAdjust="spacingAndGlyphs">e</tspan>, <tspan textLength="25.03" lengthAdjust="spacingAndGlyphs">1</tspan><tspan textLength="25.92" lengthAdjust="spacingAndGlyphs">8</tspan><tspan textLength="26.7" lengthAdjust="spacingAndGlyphs">6</tspan><tspan textLength="26.59" lengthAdjust="spacingAndGlyphs">9</tspan><tspan textLength="21.69" lengthAdjust="spacingAndGlyphs">–</tspan>2<tspan textLength="27" lengthAdjust="spacingAndGlyphs">0</tspan>22</text>
<rect x="446.4" y="1229.5" width="30.7" height="30.7" fill="#f16a32"/>
<rect x="663.2" y="1229.5" width="30.7" height="30.7" fill="#faaf43"/>
<rect x="1109.7" y="1229.5" width="30.7" height="30.7" fill="#4a8a6d"/>
<rect x="445.5" y="1299.9" width="30.7" height="30.7" fill="#bc207e"/>
<rect x="910.1" y="1299.9" width="30.7" height="30.7" fill="#69c6c9"/>
<text transform="translate(487.5,1257) scale(0.7229,1)" font-size="41.67" fill="#0d0d0d" x="-0.23 22.2 45.21 70.04 92.54 117.45 140.22"><tspan textLength="21.68" lengthAdjust="spacingAndGlyphs">V</tspan><tspan textLength="21.23" lengthAdjust="spacingAndGlyphs">o</tspan>uch<tspan textLength="21.23" lengthAdjust="spacingAndGlyphs">e</tspan><tspan textLength="15.82" lengthAdjust="spacingAndGlyphs">r</tspan></text>
<text transform="translate(712.4,1257) scale(0.7253,1)" font-size="41.67" fill="#0d0d0d" x="-0.81 21.99 45.79 66.69 79.34 102.22 119.28 142.7 167.24 178.74 193.25 205.57 229.36 254.27 277.44 290.19 314.63 338.05 361.76 386.79 409.55 425.44 437.35 460.75"><tspan textLength="22.11" lengthAdjust="spacingAndGlyphs">T</tspan><tspan textLength="20.16" lengthAdjust="spacingAndGlyphs">a</tspan><tspan textLength="20.14" lengthAdjust="spacingAndGlyphs">x</tspan> c<tspan textLength="15.82" lengthAdjust="spacingAndGlyphs">r</tspan><tspan textLength="21.39" lengthAdjust="spacingAndGlyphs">e</tspan><tspan textLength="22.25" lengthAdjust="spacingAndGlyphs">d</tspan>i<tspan textLength="13.2" lengthAdjust="spacingAndGlyphs">t</tspan> <tspan textLength="20.16" lengthAdjust="spacingAndGlyphs">a</tspan>n<tspan textLength="22.25" lengthAdjust="spacingAndGlyphs">d</tspan> <tspan textLength="22.25" lengthAdjust="spacingAndGlyphs">d</tspan><tspan textLength="21.39" lengthAdjust="spacingAndGlyphs">e</tspan><tspan textLength="22.25" lengthAdjust="spacingAndGlyphs">d</tspan>uc<tspan textLength="13.2" lengthAdjust="spacingAndGlyphs">t</tspan>i<tspan textLength="21.39" lengthAdjust="spacingAndGlyphs">o</tspan>n</text>
<text transform="translate(1158.3,1257) scale(0.7312,1)" font-size="41.67" fill="#0d0d0d" x="-0.81 21.82 45.44 66.73 84.68 107.32 124.31 147.55 171.87 183.26 197.67 210.42 231.67 254.18 279.1 302.13 312.71 336.3 353.52 374.28 399.25 411.06"><tspan textLength="21.94" lengthAdjust="spacingAndGlyphs">T</tspan><tspan textLength="20.01" lengthAdjust="spacingAndGlyphs">a</tspan><tspan textLength="19.99" lengthAdjust="spacingAndGlyphs">x</tspan><tspan textLength="15.82" lengthAdjust="spacingAndGlyphs">-</tspan>c<tspan textLength="15.82" lengthAdjust="spacingAndGlyphs">r</tspan><tspan textLength="21.23" lengthAdjust="spacingAndGlyphs">e</tspan><tspan textLength="22.08" lengthAdjust="spacingAndGlyphs">d</tspan>i<tspan textLength="13.2" lengthAdjust="spacingAndGlyphs">t</tspan> <tspan textLength="19.95" lengthAdjust="spacingAndGlyphs">s</tspan>ch<tspan textLength="21.23" lengthAdjust="spacingAndGlyphs">o</tspan>l<tspan textLength="20.01" lengthAdjust="spacingAndGlyphs">a</tspan><tspan textLength="15.82" lengthAdjust="spacingAndGlyphs">r</tspan><tspan textLength="19.95" lengthAdjust="spacingAndGlyphs">s</tspan>hi<tspan textLength="22.08" lengthAdjust="spacingAndGlyphs">p</tspan></text>
<text transform="translate(495,1327.5) scale(0.7245,1)" font-size="41.67" fill="#0d0d0d" x="-2.77 21.38 45.09 70.12 92.96 116.87 132.76 144.67 168.07 191.75 204.55 225.64 249.59 271.54 282.93 307.84 331.69 351.99 364.31 388.46 411.64 434.99 458.17 482.84 507.4"><tspan textLength="22.49" lengthAdjust="spacingAndGlyphs">E</tspan><tspan textLength="22.25" lengthAdjust="spacingAndGlyphs">d</tspan>uc<tspan textLength="20.16" lengthAdjust="spacingAndGlyphs">a</tspan><tspan textLength="13.2" lengthAdjust="spacingAndGlyphs">t</tspan>i<tspan textLength="21.39" lengthAdjust="spacingAndGlyphs">o</tspan>n <tspan textLength="20.1" lengthAdjust="spacingAndGlyphs">s</tspan><tspan textLength="20.16" lengthAdjust="spacingAndGlyphs">a</tspan><tspan textLength="19.41" lengthAdjust="spacingAndGlyphs">v</tspan>in<tspan textLength="22.25" lengthAdjust="spacingAndGlyphs">g</tspan><tspan textLength="20.1" lengthAdjust="spacingAndGlyphs">s</tspan> <tspan textLength="20.16" lengthAdjust="spacingAndGlyphs">a</tspan>cc<tspan textLength="21.39" lengthAdjust="spacingAndGlyphs">o</tspan>un<tspan textLength="13.2" lengthAdjust="spacingAndGlyphs">t</tspan></text>
<text transform="translate(958.6,1327.5) scale(0.7240,1)" font-size="41.67" fill="#0d0d0d" x="-0.81 21.99 45.79 67.31 85.34 108.22 125.28 148.7 173.23 184.73 199.25 212.05 235.48 259.19 284.21 307.06 330.96 346.85 358.76 382.16 405.85 418.65 439.73 463.68 485.64 497.02 521.93 545.79 566.08 578.4 602.55 625.73 649.08 672.26 696.93 721.49"><tspan textLength="22.11" lengthAdjust="spacingAndGlyphs">T</tspan><tspan textLength="20.16" lengthAdjust="spacingAndGlyphs">a</tspan><tspan textLength="20.14" lengthAdjust="spacingAndGlyphs">x</tspan><tspan textLength="15.82" lengthAdjust="spacingAndGlyphs">-</tspan>c<tspan textLength="15.82" lengthAdjust="spacingAndGlyphs">r</tspan><tspan textLength="21.39" lengthAdjust="spacingAndGlyphs">e</tspan><tspan textLength="22.25" lengthAdjust="spacingAndGlyphs">d</tspan>i<tspan textLength="13.2" lengthAdjust="spacingAndGlyphs">t</tspan> <tspan textLength="21.39" lengthAdjust="spacingAndGlyphs">e</tspan><tspan textLength="22.25" lengthAdjust="spacingAndGlyphs">d</tspan>uc<tspan textLength="20.16" lengthAdjust="spacingAndGlyphs">a</tspan><tspan textLength="13.2" lengthAdjust="spacingAndGlyphs">t</tspan>i<tspan textLength="21.39" lengthAdjust="spacingAndGlyphs">o</tspan>n <tspan textLength="20.1" lengthAdjust="spacingAndGlyphs">s</tspan><tspan textLength="20.16" lengthAdjust="spacingAndGlyphs">a</tspan><tspan textLength="19.41" lengthAdjust="spacingAndGlyphs">v</tspan>in<tspan textLength="22.25" lengthAdjust="spacingAndGlyphs">g</tspan><tspan textLength="20.1" lengthAdjust="spacingAndGlyphs">s</tspan> <tspan textLength="20.16" lengthAdjust="spacingAndGlyphs">a</tspan>cc<tspan textLength="21.39" lengthAdjust="spacingAndGlyphs">o</tspan>un<tspan textLength="13.2" lengthAdjust="spacingAndGlyphs">t</tspan></text>
<text transform="translate(61.6,1476.4) scale(0.7143,1)" font-size="37.5" fill="#0d0d0d" x="-1.36 20.44 41.14 63.16 78.32 99.15 119.3 129.8 141.4 162.96 184.53 207.17 229.6 251.01 261.53 282.36 301.11 310.89 320.6 332.27 353.8 376.8 400.01 418.1 429.59 450.67 464.03 475.14 496.79 517.04 539.47 560.84 581.56 590.34 601.56 624.19 646.62 668.03 678.55 699.39 718.55 728.87"><tspan textLength="19.99" lengthAdjust="spacingAndGlyphs">S</tspan><tspan textLength="19.1" lengthAdjust="spacingAndGlyphs">o</tspan>u<tspan textLength="14.24" lengthAdjust="spacingAndGlyphs">r</tspan>c<tspan textLength="19.1" lengthAdjust="spacingAndGlyphs">e</tspan>: <tspan textLength="20.09" lengthAdjust="spacingAndGlyphs">E</tspan><tspan textLength="19.87" lengthAdjust="spacingAndGlyphs">d</tspan><tspan textLength="21.12" lengthAdjust="spacingAndGlyphs">C</tspan>h<tspan textLength="19.1" lengthAdjust="spacingAndGlyphs">o</tspan>ic<tspan textLength="19.1" lengthAdjust="spacingAndGlyphs">e</tspan>, "<tspan textLength="19.94" lengthAdjust="spacingAndGlyphs">A</tspan><tspan textLength="22.13" lengthAdjust="spacingAndGlyphs">B</tspan><tspan textLength="21.12" lengthAdjust="spacingAndGlyphs">C</tspan><tspan textLength="17.95" lengthAdjust="spacingAndGlyphs">s</tspan> <tspan textLength="19.1" lengthAdjust="spacingAndGlyphs">o</tspan><tspan textLength="11.71" lengthAdjust="spacingAndGlyphs">f</tspan> <tspan textLength="19.99" lengthAdjust="spacingAndGlyphs">S</tspan>ch<tspan textLength="19.1" lengthAdjust="spacingAndGlyphs">o</tspan><tspan textLength="19.1" lengthAdjust="spacingAndGlyphs">o</tspan>l <tspan textLength="21.12" lengthAdjust="spacingAndGlyphs">C</tspan>h<tspan textLength="19.1" lengthAdjust="spacingAndGlyphs">o</tspan>ic<tspan textLength="19.1" lengthAdjust="spacingAndGlyphs">e</tspan>.”</text>
</svg>
</body></html>
